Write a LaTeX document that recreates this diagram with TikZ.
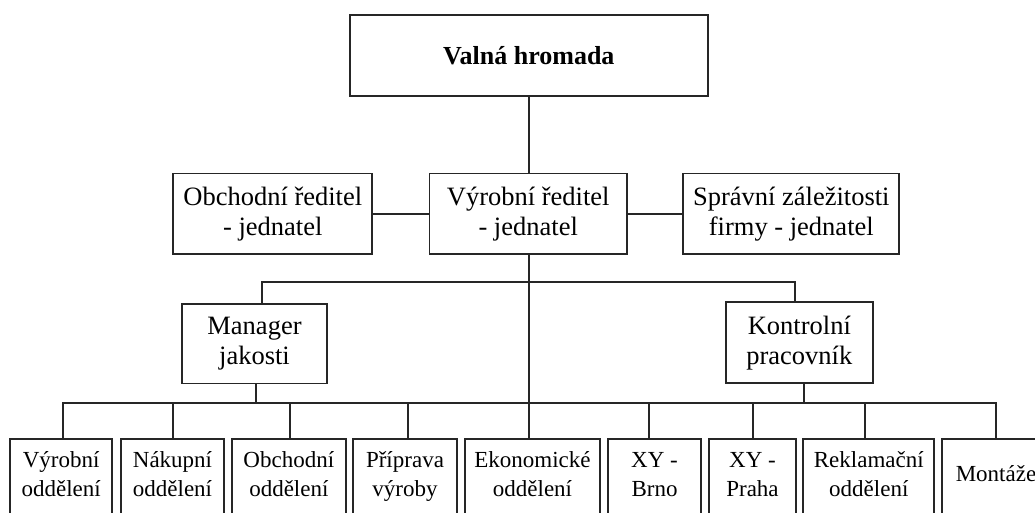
\documentclass[tikz,border=0pt]{standalone}
\usepackage{fontspec}
\setmainfont{Liberation Serif}
\usetikzlibrary{calc}
\definecolor{linec}{HTML}{262626}
\tikzset{
  upbox/.style={draw=linec, line width=1.7pt, rectangle, inner sep=0pt, align=center,
    font=\fontsize{26.5}{30}\selectfont, text=black},
  lowbox/.style={draw=linec, line width=1.7pt, rectangle, inner sep=0pt, anchor=north,
    minimum height=110pt},
  lowtxt/.style={inner sep=0pt, anchor=north, align=center,
    font=\fontsize{23}{28.7}\selectfont, text=black},
  conn/.style={draw=linec, line width=1.7pt}
}
\begin{document}
\begin{tikzpicture}[x=1pt,y=-1pt]
\useasboundingbox (0,0) rectangle (1035,512);
\clip (0,0) rectangle (1035,512);
% upper boxes
\node[upbox, minimum width=357.7pt, minimum height=81pt, font=\fontsize{26}{30}\selectfont\bfseries] (vh) at (528.85,55.5) {Valná hromada};
\node[upbox, minimum width=199pt, minimum height=80.7pt] (or) at (272.8,213.7) {Obchodní ředitel\\- jednatel};
\node[upbox, minimum width=197.7pt, minimum height=80.7pt] (vr) at (528.2,213.7) {Výrobní ředitel\\- jednatel};
\node[upbox, minimum width=216pt, minimum height=80.7pt] (sz) at (791.3,213.7) {Správní záležitosti\\firmy - jednatel};
\node[upbox, minimum width=145.6pt, minimum height=79.3pt] (mj) at (254.5,343.7) {Manager\\jakosti};
\node[upbox, minimum width=146.7pt, minimum height=81pt] (kp) at (799.35,342.8) {Kontrolní\\pracovník};
% lower boxes
\node[lowbox, minimum width=102.3pt] (b1) at (61.15,438.3) {};
\node[lowbox, minimum width=103pt]   (b2) at (172.5,438.3) {};
\node[lowbox, minimum width=114.3pt] (b3) at (288.85,438.3) {};
\node[lowbox, minimum width=103.4pt] (b4) at (405,438.3) {};
\node[lowbox, minimum width=135pt]   (b5) at (532.5,438.3) {};
\node[lowbox, minimum width=92.4pt]  (b6) at (654.5,438.3) {};
\node[lowbox, minimum width=86.4pt]  (b7) at (752.5,438.3) {};
\node[lowbox, minimum width=131pt]   (b8) at (868.8,438.3) {};
\node[lowbox, minimum width=107.4pt] (b9) at (996,438.3) {};
% lower texts
\node[lowtxt] (t1) at ($(b1.north)+(0,11)$) {\rule{0pt}{18pt}Výrobní\\oddělení};
\node[lowtxt] (t2) at ($(b2.north)+(0,11)$) {\rule{0pt}{18pt}Nákupní\\oddělení};
\node[lowtxt] (t3) at ($(b3.north)+(0,11)$) {\rule{0pt}{18pt}Obchodní\\oddělení};
\node[lowtxt] (t4) at ($(b4.north)+(0,11)$) {\rule{0pt}{18pt}Příprava\\výroby};
\node[lowtxt] (t5) at ($(b5.north)+(0,11)$) {\rule{0pt}{18pt}Ekonomické\\oddělení};
\node[lowtxt] (t6) at ($(b6.north)+(0,11)$) {\rule{0pt}{18pt}XY -\\Brno};
\node[lowtxt] (t7) at ($(b7.north)+(0,11)$) {\rule{0pt}{18pt}XY -\\Praha};
\node[lowtxt] (t8) at ($(b8.north)+(0,11)$) {\rule{0pt}{18pt}Reklamační\\oddělení};
\node[lowtxt] (t9) at ($(b9.north)+(0,25.4)$) {\rule{0pt}{18pt}Montáže};
% connectors
\draw[conn] (vh.south) -- (vh.south |- vr.north);
\draw[conn] (or.east) -- (vr.west);
\draw[conn] (vr.east) -- (sz.west);
\draw[conn] (vh.south |- vr.south) -- (vh.south |- b5.north);
\coordinate (bl) at (262.3,281.7);
\coordinate (br) at (795,281.7);
\draw[conn] (bl |- mj.north) -- (bl) -- (br) -- (br |- kp.north);
\coordinate (m2) at (255.7,403.3);
\coordinate (k2) at (804,403.3);
\draw[conn] (m2 |- mj.south) -- (m2);
\draw[conn] (k2 |- kp.south) -- (k2);
\coordinate (s1) at (63.3,403.3);
\coordinate (s2) at (173.3,403.3);
\coordinate (s3) at (290,403.3);
\coordinate (s4) at (408.3,403.3);
\coordinate (s6) at (649.3,403.3);
\coordinate (s7) at (753.3,403.3);
\coordinate (s8) at (865.3,403.3);
\coordinate (s9) at (996,403.3);
\draw[conn] (s1 |- b1.north) -- (s1) -- (s9) -- (s9 |- b9.north);
\draw[conn] (s2) -- (s2 |- b2.north);
\draw[conn] (s3) -- (s3 |- b3.north);
\draw[conn] (s4) -- (s4 |- b4.north);
\draw[conn] (s6) -- (s6 |- b6.north);
\draw[conn] (s7) -- (s7 |- b7.north);
\draw[conn] (s8) -- (s8 |- b8.north);
\end{tikzpicture}
\end{document}
